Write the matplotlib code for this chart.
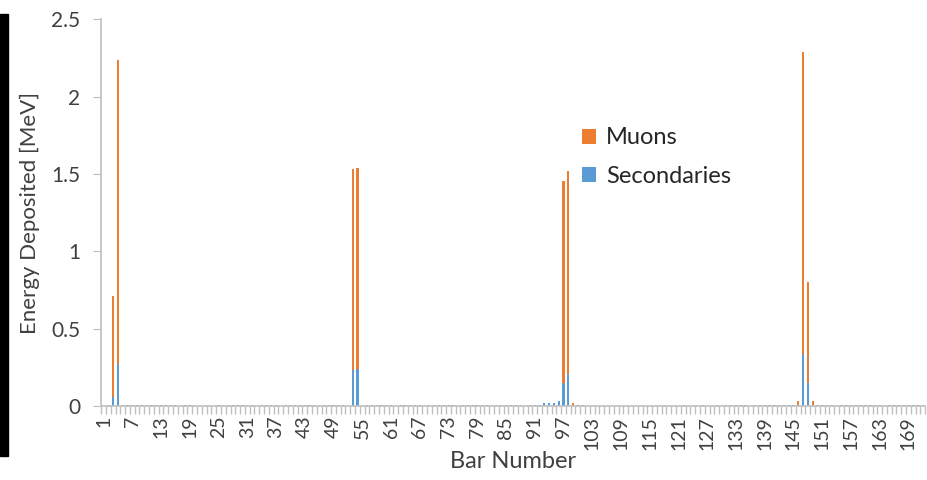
import numpy as np
import matplotlib.pyplot as plt
from matplotlib.patches import Rectangle

#====================1======================
#               data
#===========================================
n_bars = 172
bar_no = np.arange(1, n_bars + 1)

# secondaries (blue, bottom of stack), bar 1..172
secondaries = [
    0.00, 0.01, 0.06, 0.27, 0.01, 0.01, 0.01, 0.01, 0.01, 0.01,   # 1-10
    0.01, 0.01, 0.01, 0.01, 0.01, 0.01, 0.00, 0.01, 0.01, 0.00,   # 11-20
    0.00, 0.00, 0.00, 0.00, 0.01, 0.00, 0.01, 0.01, 0.01, 0.01,   # 21-30
    0.00, 0.01, 0.00, 0.01, 0.01, 0.01, 0.01, 0.00, 0.01, 0.01,   # 31-40
    0.01, 0.01, 0.01, 0.01, 0.01, 0.00, 0.01, 0.01, 0.01, 0.01,   # 41-50
    0.01, 0.00, 0.23, 0.24, 0.00, 0.01, 0.01, 0.01, 0.01, 0.01,   # 51-60
    0.01, 0.00, 0.01, 0.01, 0.01, 0.01, 0.01, 0.00, 0.01, 0.01,   # 61-70
    0.01, 0.01, 0.01, 0.01, 0.00, 0.01, 0.01, 0.01, 0.01, 0.01,   # 71-80
    0.01, 0.00, 0.01, 0.01, 0.01, 0.01, 0.01, 0.01, 0.00, 0.01,   # 81-90
    0.01, 0.01, 0.02, 0.02, 0.02, 0.03, 0.15, 0.21, 0.005, 0.01,  # 91-100
    0.01, 0.00, 0.00, 0.00, 0.00, 0.00, 0.00, 0.00, 0.00, 0.00,   # 101-110
    0.00, 0.00, 0.00, 0.00, 0.00, 0.00, 0.00, 0.01, 0.00, 0.00,   # 111-120
    0.00, 0.01, 0.00, 0.00, 0.00, 0.01, 0.00, 0.00, 0.01, 0.00,   # 121-130
    0.01, 0.01, 0.01, 0.01, 0.01, 0.00, 0.01, 0.01, 0.01, 0.01,   # 131-140
    0.01, 0.01, 0.01, 0.01, 0.01, 0.01, 0.335, 0.15, 0.01, 0.01,  # 141-150
    0.01, 0.01, 0.01, 0.00, 0.01, 0.01, 0.01, 0.01, 0.01, 0.01,   # 151-160
    0.01, 0.01, 0.01, 0.00, 0.01, 0.01, 0.01, 0.01, 0.01, 0.01,   # 161-170
    0.01, 0.01,                                                   # 171-172
]

# muons (orange, stacked on top), only non-zero bars listed
muon_bars = [3, 4, 53, 54, 97, 98, 99, 146, 147, 148, 149]
muon_vals = [0.65, 1.965, 1.30, 1.30, 1.305, 1.31, 0.015, 0.02, 1.955, 0.65, 0.02]

tick_bars = list(range(1, 170, 6))

c_muon = '#ED7D31'
c_sec = '#5B9BD5'
c_axis = '#BFBFBF'

#====================2======================
#          build stacks
#===========================================
aSec = np.array(secondaries)
aMuon = np.zeros(n_bars)
aMuon[np.array(muon_bars) - 1] = muon_vals

#====================3======================
#          plot
#===========================================
plt.rcParams['font.family'] = ['Lato', 'DejaVu Sans']
fig = plt.figure(figsize=(9.28, 4.80), dpi=100)
ax = fig.add_axes([0.109, 0.154, 0.888, 0.806])

ax.bar(bar_no, aSec, width=0.45, color=c_sec, label='Secondaries', zorder=2)
ax.bar(bar_no, aMuon, width=0.45, bottom=aSec, color=c_muon, label='Muons', zorder=2)

ax.set_xlim(0.5, n_bars + 0.5)
ax.set_ylim(0, 2.5)
ax.set_yticks([0, 0.5, 1, 1.5, 2, 2.5])
ax.set_yticklabels(['0', '0.5', '1', '1.5', '2', '2.5'])
ax.set_xticks(tick_bars)
ax.set_xticklabels([str(b) for b in tick_bars], rotation=90)
ax.set_xticks(np.arange(0.5, n_bars + 1, 1), minor=True)

ax.tick_params(axis='x', which='major', length=0, pad=7, labelsize=14, colors='#404040')
ax.tick_params(axis='x', which='minor', length=6, color=c_axis, width=1)
ax.tick_params(axis='y', which='major', length=6, color=c_axis, labelsize=15,
               labelcolor='#404040', pad=9)

for s in ['top', 'right']:
    ax.spines[s].set_visible(False)
for s in ['left', 'bottom']:
    ax.spines[s].set_color(c_axis)
    ax.spines[s].set_linewidth(1.2)

ax.set_xlabel('Bar Number', fontsize=17, color='#404040', labelpad=1)
ax.set_ylabel('Energy Deposited [MeV]', fontsize=16, color='#404040', labelpad=8)

h, l = ax.get_legend_handles_labels()
ax.legend(h[::-1], l[::-1], loc='upper left', bbox_to_anchor=(0.558, 0.775),
          frameon=False, fontsize=17, handlelength=0.6, handleheight=0.6,
          handletextpad=0.4, labelspacing=0.75, labelcolor='#262626')

# dark strip on the left edge of the screenshot
fig.patches.append(Rectangle((0, 0.05), 8 / 928, 0.92, transform=fig.transFigure,
                             color='black', zorder=0))

fig.savefig('out.png', dpi=100)
